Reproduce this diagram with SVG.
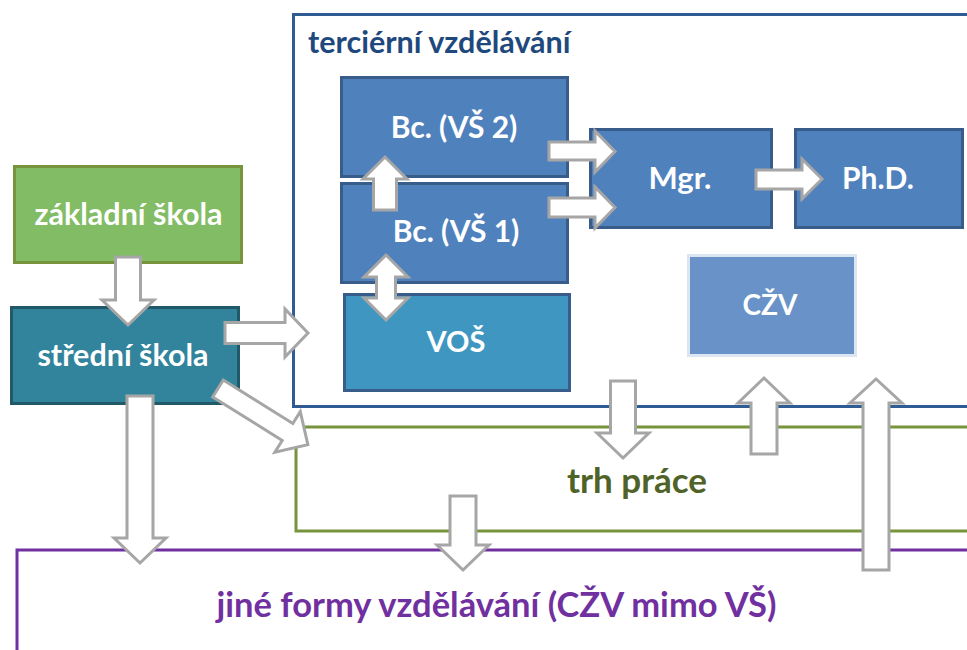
<svg xmlns="http://www.w3.org/2000/svg" width="967" height="650" viewBox="0 0 967 650">
<style>
.t{font-family:Lato,"Open Sans","Liberation Sans",sans-serif;font-weight:bold;text-anchor:middle}
.w{fill:#ffffff;font-size:30px}
.box{stroke-width:3}
.blue{fill:#4f81bd;stroke:#385d8a}
.arr{fill:#ffffff;stroke:#a6a6a6;stroke-width:3;stroke-linejoin:miter}
</style>
<rect width="967" height="650" fill="#ffffff"/>
<g id="jine">
<rect x="17" y="550" width="1000" height="200" fill="none" stroke="#7030a0" stroke-width="3"/>
<text class="t" x="496.5" y="617" fill="#7030a0" font-size="34.5">jiné formy vzdělávání (CŽV mimo VŠ)</text>
</g>
<g id="trh">
<rect x="296" y="427" width="700" height="104" fill="none" stroke="#77933c" stroke-width="3"/>
<text class="t" x="637" y="493" fill="#4f6228" font-size="35">trh práce</text>
</g>
<g id="terciarni">
<rect x="293.5" y="14.5" width="700" height="392" fill="none" stroke="#2f5c92" stroke-width="3"/>
<text class="t" x="308" y="53" fill="#1f497d" font-size="30.5" style="text-anchor:start">terciérní vzdělávání</text>
</g>
<g id="zakladni">
<rect class="box" x="14.5" y="166.5" width="227" height="96" fill="#82bc64" stroke="#77933c"/>
<text class="t w" x="128.5" y="225" style="font-size:30.5px">základní škola</text>
</g>
<g id="stredni">
<rect class="box" x="11.5" y="307.5" width="227" height="96" fill="#31849b" stroke="#215968"/>
<text class="t w" x="123" y="366" style="font-size:30.5px">střední škola</text>
</g>
<g id="bc2">
<rect class="box blue" x="341.5" y="77.5" width="226" height="99"/>
<text class="t w" x="454" y="138">Bc. (VŠ 2)</text>
</g>
<g id="bc1">
<rect class="box blue" x="341.5" y="183.5" width="226" height="99"/>
<text class="t w" x="456" y="242">Bc. (VŠ 1)</text>
</g>
<g id="vos">
<rect class="box" x="344.5" y="294.5" width="225" height="96" fill="#3f97c1" stroke="#385d8a"/>
<text class="t w" x="456" y="352" style="font-size:29px">VOŠ</text>
</g>
<g id="mgr">
<rect class="box blue" x="590.5" y="129.5" width="181" height="98"/>
<text class="t w" x="680" y="189" style="font-size:31px">Mgr.</text>
</g>
<g id="phd">
<rect class="box blue" x="795.5" y="129.5" width="167" height="98"/>
<text class="t w" x="878" y="189">Ph.D.</text>
</g>
<g id="czv">
<rect class="box" x="688.5" y="255.5" width="167" height="100" fill="#6993c8" stroke="#dce6f2"/>
<text class="t w" x="770" y="315" style="font-size:28px">CŽV</text>
</g>
<g id="connectors">
<path class="arr" d="M115.5,257 H140.5 V300 H154 L128,325 L102,300 H115.5 Z"/>
<path class="arr" d="M225,322.5 H285 V309 L308,333 L285,357 V343.5 H225 Z"/>
<path class="arr" d="M0,-10 H82 V-24 L106,0 L82,24 V10 H0 Z" transform="translate(218,388.5) rotate(32)"/>
<path class="arr" d="M127,396 H153 V538 H166 L140,563 L114,538 H127 Z"/>
<path class="arr" d="M450,496 H476 V545 H489 L463,570 L437,545 H450 Z"/>
<path class="arr" d="M610.5,381 H635.5 V433 H649 L623,458 L597,433 H610.5 Z"/>
<path class="arr" d="M751,454 H777 V403 H790 L764,378 L738,403 H751 Z"/>
<path class="arr" d="M863,570 H889 V403 H902 L876,379 L850,403 H863 Z"/>
<path class="arr" d="M549,142 H595 V131 L615,151.5 L595,172 V160 H549 Z"/>
<path class="arr" d="M549,198 H595 V187 L615,207.5 L595,228 V217 H549 Z"/>
<path class="arr" d="M756,170 H802 V159 L822,179 L802,199 V189 H756 Z"/>
<path class="arr" d="M373.5,210 H396.5 V179 H407 L385,157 L363,179 H373.5 Z"/>
<path class="arr" d="M386,255 L408,277 H395.5 V298 H408 L386,320 L364,298 H376.5 V277 H364 Z"/>
</g>
</svg>
